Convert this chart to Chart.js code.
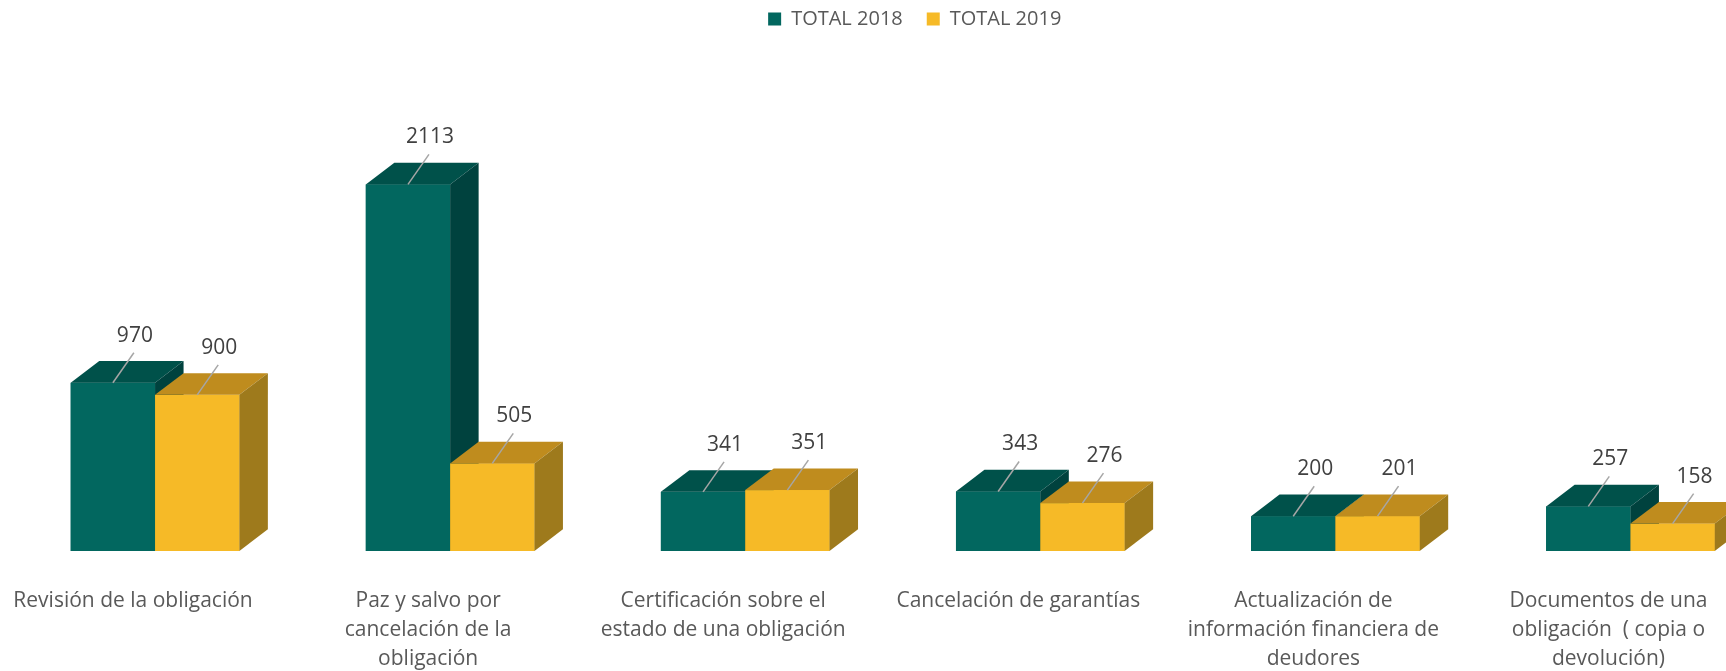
<!DOCTYPE html>
<html>
<head>
<meta charset="utf-8">
<script src="https://cdn.jsdelivr.net/npm/chart.js@4.4.1/dist/chart.umd.min.js"></script>
<style>
  html, body { margin: 0; padding: 0; background: #ffffff; overflow: hidden; }
  #wrap { width: 1726px; height: 671px; overflow: hidden; position: relative; }
  canvas { display: block; }
</style>
</head>
<body>
<div id="wrap"><canvas id="c" width="1822" height="671"></canvas></div>
<script>
const categories = [
  "Revisión de la obligación",
  ["Paz y salvo por", "cancelación de la", "obligación"],
  ["Certificación sobre el", "estado de una obligación"],
  "Cancelación de garantías",
  ["Actualización de", "información financiera de", "deudores"],
  ["Documentos de una", "obligación  ( copia o", "devolución)"]
];
const seriesNames = ["TOTAL 2018", "TOTAL 2019"];
const total2018 = [970, 2113, 341, 343, 200, 257];
const total2019 = [900, 505, 351, 276, 201, 158];

const frontColors = ["#02675F", "#F6BA27"];
const topColors = ["#00514A", "#BF8C1E"];
const sideColors = ["#00423E", "#9E7A1C"];
const DX = 28.5, DY = 21.7;

const bar3d = {
  id: "bar3d",
  afterDatasetsDraw(chart) {
    const ctx = chart.ctx;
    const metas = chart.data.datasets.map((d, i) => chart.getDatasetMeta(i));
    const n = chart.data.labels.length;
    ctx.save();
    for (let j = 0; j < n; j++) {
      metas.forEach((meta, di) => {
        const el = meta.data[j];
        const p = el.getProps(["x", "y", "base", "width"], true);
        const l = p.x - p.width / 2, r = p.x + p.width / 2, y = p.y, b = p.base;
        ctx.fillStyle = frontColors[di];
        ctx.fillRect(l, y, p.width, b - y);
        ctx.fillStyle = topColors[di];
        ctx.beginPath();
        ctx.moveTo(l, y); ctx.lineTo(l + DX, y - DY); ctx.lineTo(r + DX, y - DY); ctx.lineTo(r, y);
        ctx.closePath(); ctx.fill();
        ctx.fillStyle = sideColors[di];
        ctx.beginPath();
        ctx.moveTo(r, y); ctx.lineTo(r + DX, y - DY); ctx.lineTo(r + DX, b - DY); ctx.lineTo(r, b);
        ctx.closePath(); ctx.fill();
      });
    }
    ctx.restore();
  }
};

const valueLabels = {
  id: "valueLabels",
  afterDatasetsDraw(chart) {
    const ctx = chart.ctx;
    ctx.save();
    chart.data.datasets.forEach((ds, di) => {
      const meta = chart.getDatasetMeta(di);
      meta.data.forEach((el, j) => {
        const p = el.getProps(["x", "y"], true);
        ctx.strokeStyle = "#A6A6A6";
        ctx.lineWidth = 1.5;
        ctx.beginPath();
        ctx.moveTo(p.x, p.y);
        ctx.lineTo(p.x + 21, p.y - 30);
        ctx.stroke();
        ctx.fillStyle = "#404040";
        ctx.font = "21px 'Open Sans'";
        ctx.textAlign = "center";
        ctx.textBaseline = "middle";
        ctx.fillText(String(ds.data[j]), p.x + 22, p.y - 47);
      });
    });
    ctx.restore();
  }
};

new Chart(document.getElementById("c"), {
  type: "bar",
  data: {
    labels: categories,
    datasets: [
      { label: seriesNames[0], data: total2018, backgroundColor: frontColors[0], borderWidth: 0,
        categoryPercentage: 0.5715, barPercentage: 1 },
      { label: seriesNames[1], data: total2019, backgroundColor: frontColors[1], borderWidth: 0,
        categoryPercentage: 0.5715, barPercentage: 1 }
    ]
  },
  options: {
    responsive: false,
    animation: false,
    layout: { padding: { left: 7.5, right: 0, top: -15, bottom: 0 } },
    plugins: {
      tooltip: { enabled: false },
      legend: {
        position: "top",
        labels: {
          boxWidth: 13,
          boxHeight: 13,
          padding: 24,
          color: "#595959",
          font: { family: "'Open Sans'", size: 20 }
        }
      }
    },
    scales: {
      x: {
        grid: { display: false },
        border: { display: false },
        ticks: {
          color: "#595959",
          font: { family: "'Open Sans'", size: 21, lineHeight: 1.4 },
          padding: 27,
          labelOffset: -22,
          maxRotation: 0,
          autoSkip: false
        },
        afterFit(scale) { scale.height = 120; }
      },
      y: {
        position: "right",
        min: 0,
        max: 2951,
        display: true,
        grid: { display: false },
        border: { display: false },
        ticks: { display: false },
        afterFit(scale) { scale.width = 44; }
      }
    }
  },
  plugins: [bar3d, valueLabels]
});
</script>
</body>
</html>
